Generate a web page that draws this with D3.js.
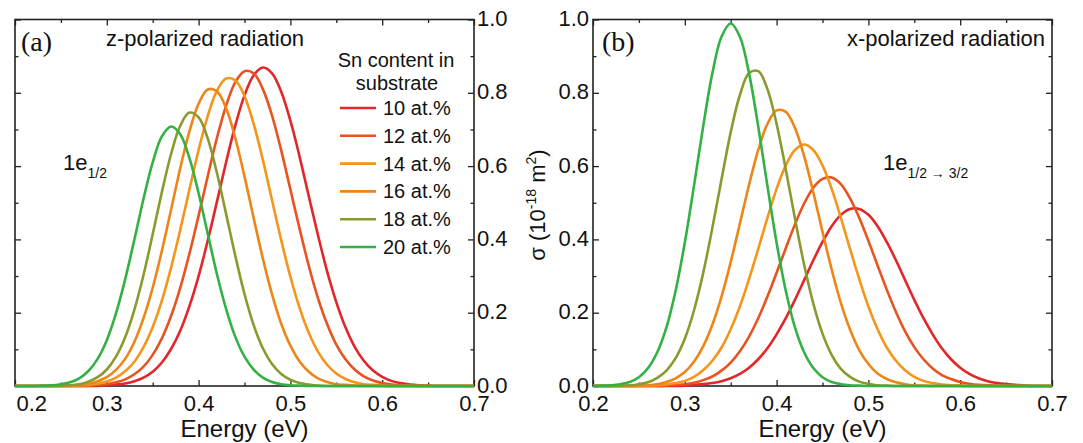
<html>
<head>
<meta charset="utf-8">
<script src="https://cdn.jsdelivr.net/npm/d3@7/dist/d3.min.js"></script>
<style>
body { margin: 0; background: #fff; }
text { font-family: "Liberation Sans", Arial, sans-serif; fill: #111; }
</style>
</head>
<body>
<div id="chart"></div>
<script>
// energy grid (eV), 0.01 step
var energy = [0.20,0.21,0.22,0.23,0.24,0.25,0.26,0.27,0.28,0.29,
              0.30,0.31,0.32,0.33,0.34,0.35,0.36,0.37,0.38,0.39,
              0.40,0.41,0.42,0.43,0.44,0.45,0.46,0.47,0.48,0.49,
              0.50,0.51,0.52,0.53,0.54,0.55,0.56,0.57,0.58,0.59,
              0.60,0.61,0.62,0.63,0.64,0.65,0.66,0.67,0.68,0.69,0.70];

var snLabels = ["10 at.%", "12 at.%", "14 at.%", "16 at.%", "18 at.%", "20 at.%"];
var snColors = ["#e2262a", "#e8531f", "#f4951c", "#ee8518", "#8b9a2e", "#33b145"];

// (a) z-polarized, 1e_1/2  (sigma in 1e-18 m^2)
var z10 = [0,0,0,0,0,0,0,0,0,0, .002,.004,.007,.013,.023,.039,.064,.101,.151,.218,.300,.397,.503,.611,.711,.793,.848,.869,.853,.803,.724,.626,.518,.412,.313,.229,.160,.107,.069,.042,.025,.014,.008,.004,.002,.001, 0,0,0,0,0];
var z12 = [0,0,0,0,0,0,0,0, .001,.003,.005,.010,.018,.032,.053,.085,.130,.191,.268,.361,.465,.573,.677,.765,.829,.859,.853,.810,.738,.643,.536,.429,.328,.240,.169,.113,.073,.045,.026,.015,.008,.004,.002,.001, 0,0,0,0,0,0,0];
var z14 = [0,0,0,0,0,0,0, .002,.003,.006,.012,.023,.040,.066,.106,.161,.233,.323,.426,.536,.644,.737,.806,.839,.834,.791,.715,.617,.507,.398,.298,.213,.145,.094,.058,.034,.019,.010,.005,.003,.001, 0,0,0,0,0,0,0,0,0,0];
var z16 = [0,0,0,0,0,0, .001,.003,.006,.013,.024,.044,.074,.120,.185,.268,.369,.481,.594,.695,.770,.809,.804,.758,.676,.572,.458,.348,.250,.170,.110,.067,.039,.021,.011,.005,.003,.001, 0,0,0,0,0,0,0,0,0,0,0,0,0];
var z18 = [0,0,0,0,0, .001,.002,.005,.012,.024,.045,.080,.133,.208,.303,.414,.529,.633,.710,.746,.733,.675,.581,.469,.355,.251,.166,.103,.060,.033,.017,.008,.004,.001, 0,0,0,0,0,0,0,0,0,0,0,0,0,0,0,0,0];
var z20 = [0,0,0, .001,.002,.005,.010,.021,.041,.074,.125,.198,.291,.399,.511,.610,.681,.708,.687,.622,.526,.415,.305,.210,.134,.080,.045,.023,.011,.005,.002,.001, 0,0,0,0,0,0,0,0,0,0,0,0,0,0,0,0,0,0,0];

// (b) x-polarized, 1e_1/2->3/2
var x10 = [0,0,0,0,0,0,0,0,0,0, .001,.003,.005,.008,.013,.021,.033,.050,.073,.103,.141,.185,.235,.289,.343,.393,.436,.467,.483,.483,.467,.436,.393,.343,.289,.235,.185,.141,.103,.073,.050,.033,.021,.013,.008,.005,.003,.001, 0,0,0];
var x12 = [0,0,0,0,0,0,0,0, .001,.003,.005,.009,.016,.026,.042,.064,.095,.135,.185,.244,.309,.376,.441,.498,.541,.565,.569,.551,.512,.459,.396,.329,.263,.202,.149,.106,.073,.048,.030,.019,.011,.006,.003,.002,.001, 0,0,0,0,0,0];
var x14 = [0,0,0,0,0,0, .001,.002,.004,.008,.014,.025,.043,.069,.105,.155,.217,.292,.374,.459,.538,.602,.644,.659,.644,.602,.538,.459,.374,.292,.217,.155,.105,.069,.043,.025,.014,.008,.004,.002,.001, 0,0,0,0,0,0,0,0,0,0];
var x16 = [0,0,0,0,0, .001,.002,.005,.011,.021,.038,.066,.108,.167,.244,.338,.443,.549,.644,.715,.752,.748,.704,.627,.528,.421,.318,.227,.154,.098,.060,.034,.019,.010,.005,.002,.001, 0,0,0,0,0,0,0,0,0,0,0,0,0,0];
var x18 = [0,0,0, .001,.002,.005,.010,.022,.042,.076,.129,.206,.308,.431,.564,.692,.794,.854,.859,.810,.715,.591,.457,.331,.225,.143,.085,.047,.025,.012,.006,.002,.001, 0,0,0,0,0,0,0,0,0,0,0,0,0,0,0,0,0,0];
var x20 = [0, .001,.002,.005,.011,.024,.049,.092,.160,.260,.391,.546,.708,.853,.953,.989,.953,.853,.708,.546,.391,.260,.160,.092,.049,.024,.011,.005,.002,.001, 0,0,0,0,0,0,0,0,0,0,0,0,0,0,0,0,0,0,0,0,0];

var majorX = [0.2, 0.3, 0.4, 0.5, 0.6, 0.7];
var minorX = [0.25, 0.35, 0.45, 0.55, 0.65];
var majorY = [0.0, 0.2, 0.4, 0.6, 0.8, 1.0];
var minorY = [0.1, 0.3, 0.5, 0.7, 0.9];

var W = 1083, H = 443;
var yTop = 19.5, yBot = 386;

var svg = d3.select("#chart").append("svg")
    .attr("width", W).attr("height", H);
svg.append("rect").attr("width", W).attr("height", H).attr("fill", "#fff");

var y = d3.scaleLinear().domain([0, 1]).range([yBot, yTop]);
var fmt = d3.format(".1f");

function drawPanel(x0, x1, series, ySide) {
	var x = d3.scaleLinear().domain([0.2, 0.7]).range([x0, x1]);
	var g = svg.append("g");

	// ticks, all pointing inward
	function addAxis(axis, tx, ty, labels) {
		var a = g.append("g").attr("transform", "translate(" + tx + "," + ty + ")")
			.call(axis);
		a.attr("font-size", 22).attr("font-family", null);
		a.select(".domain").remove();
		a.selectAll("line").attr("stroke", "#222").attr("stroke-width", 1.3);
		a.selectAll("text").attr("fill", "#111");
		if (!labels) a.selectAll("text").remove();
		return a;
	}

	var bx = addAxis(d3.axisBottom(x).tickValues(majorX).tickFormat(fmt)
		.tickSizeInner(-6).tickSizeOuter(0).tickPadding(9), 0, yBot, true);
	addAxis(d3.axisBottom(x).tickValues(minorX).tickSizeInner(-3.5).tickSizeOuter(0), 0, yBot, false);
	addAxis(d3.axisTop(x).tickValues(majorX).tickSizeInner(-6).tickSizeOuter(0), 0, yTop, false);
	addAxis(d3.axisTop(x).tickValues(minorX).tickSizeInner(-3.5).tickSizeOuter(0), 0, yTop, false);

	var ly = addAxis(d3.axisLeft(y).tickValues(majorY).tickFormat(fmt)
		.tickSizeInner(-6).tickSizeOuter(0).tickPadding(4), x0, 0, ySide == "left");
	addAxis(d3.axisLeft(y).tickValues(minorY).tickSizeInner(-3.5).tickSizeOuter(0), x0, 0, false);
	var ry = addAxis(d3.axisRight(y).tickValues(majorY).tickFormat(fmt)
		.tickSizeInner(-6).tickSizeOuter(0).tickPadding(3), x1, 0, ySide == "right");
	addAxis(d3.axisRight(y).tickValues(minorY).tickSizeInner(-3.5).tickSizeOuter(0), x1, 0, false);
	ly.selectAll("text").attr("dy", "0.28em");
	ry.selectAll("text").attr("dy", "0.28em");

	if (ySide == "right") {
		// first x label sits inside the frame in the original
		bx.selectAll(".tick").filter(function(d) { return d == 0.2; })
			.select("text").attr("text-anchor", "start").attr("x", 1);
	}

	g.append("rect")
		.attr("x", x0).attr("y", yTop)
		.attr("width", x1 - x0).attr("height", yBot - yTop)
		.attr("fill", "none").attr("stroke", "#222").attr("stroke-width", 1.6);

	var line = d3.line()
		.x(function(d, i) { return x(energy[i]); })
		.y(function(d) { return y(d); })
		.curve(d3.curveCatmullRom.alpha(0.5));

	series.forEach(function(s, k) {
		g.append("path")
			.attr("d", line(s))
			.attr("fill", "none")
			.attr("stroke", snColors[k])
			.attr("stroke-width", 2.6);
	});

	g.append("text")
		.attr("x", (x0 + x1) / 2).attr("y", 437)
		.attr("text-anchor", "middle").attr("font-size", 24)
		.text("Energy (eV)");

	return x;
}

drawPanel(15, 474, [z10, z12, z14, z16, z18, z20], "right");
drawPanel(593, 1052, [x10, x12, x14, x16, x18, x20], "left");

// panel texts
var serif = "'Liberation Serif', 'Times New Roman', serif";
svg.append("text").attr("x", 21).attr("y", 51)
	.attr("font-size", 28).style("font-family", serif).text("(a)");
svg.append("text").attr("x", 602).attr("y", 51)
	.attr("font-size", 28).style("font-family", serif).text("(b)");

svg.append("text").attr("x", 106).attr("y", 46).attr("font-size", 22).text("z-polarized radiation");
svg.append("text").attr("x", 1045).attr("y", 46).attr("font-size", 22)
	.attr("text-anchor", "end").text("x-polarized radiation");

var t1 = svg.append("text").attr("x", 63).attr("y", 170).attr("font-size", 22);
t1.append("tspan").text("1e");
t1.append("tspan").attr("dy", 8).attr("font-size", 14).text("1/2");

var t2 = svg.append("text").attr("x", 883).attr("y", 170).attr("font-size", 22);
t2.append("tspan").text("1e");
t2.append("tspan").attr("dy", 8).attr("font-size", 14).text("1/2 \u2192 3/2");

// legend
svg.append("text").attr("x", 396).attr("y", 67).attr("font-size", 20)
	.attr("text-anchor", "middle").text("Sn content in");
svg.append("text").attr("x", 397).attr("y", 90).attr("font-size", 20)
	.attr("text-anchor", "middle").text("substrate");

var leg = svg.append("g").selectAll("g").data(snLabels).enter().append("g")
	.attr("transform", function(d, i) { return "translate(340," + (108 + i * 27.8) + ")"; });
leg.append("line").attr("x1", 0).attr("x2", 36)
	.attr("stroke", function(d, i) { return snColors[i]; }).attr("stroke-width", 2.6);
leg.append("text").attr("x", 43).attr("y", 7).attr("font-size", 20)
	.text(function(d) { return d; });

// shared y label
var yl = svg.append("text")
	.attr("transform", "translate(545,205) rotate(-90)")
	.attr("text-anchor", "middle").attr("font-size", 22);
yl.append("tspan").text("\u03c3 (10");
yl.append("tspan").attr("dy", -9).attr("font-size", 14).text("-18");
yl.append("tspan").attr("dy", 9).text(" m");
yl.append("tspan").attr("dy", -9).attr("font-size", 14).text("2");
yl.append("tspan").attr("dy", 9).text(")");
</script>
</body>
</html>
